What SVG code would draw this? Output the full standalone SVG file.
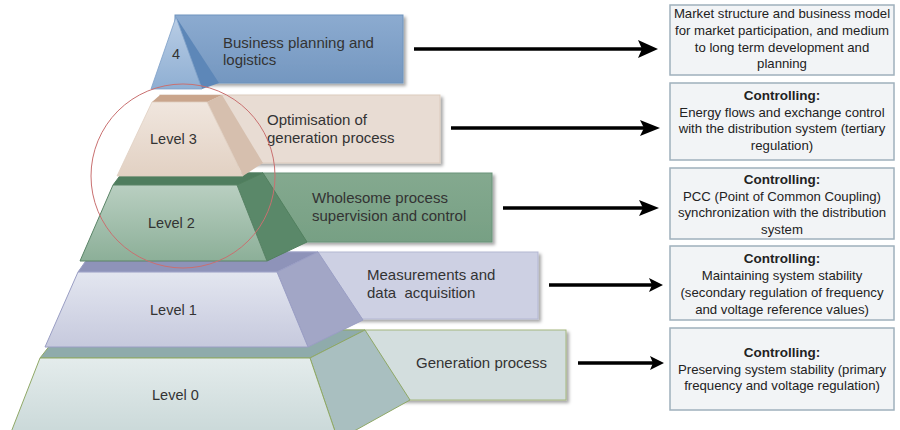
<svg xmlns="http://www.w3.org/2000/svg" width="900" height="430" viewBox="0 0 900 430">
<defs>
<filter id="sh" x="-5%" y="-10%" width="115%" height="130%">
<feDropShadow dx="2.5" dy="2.5" stdDeviation="1.6" flood-color="#000" flood-opacity="0.35"/>
</filter>
<linearGradient id="g4r" x1="0" y1="0" x2="0" y2="1"><stop offset="0" stop-color="#8cabd0"/><stop offset="1" stop-color="#7497c0"/></linearGradient>
<linearGradient id="g4f" x1="0" y1="0" x2="0" y2="1"><stop offset="0" stop-color="#b9cde5"/><stop offset="1" stop-color="#8fafd3"/></linearGradient>
<linearGradient id="g3f" x1="0" y1="0" x2="0" y2="1"><stop offset="0" stop-color="#f0e6de"/><stop offset="1" stop-color="#e2d1c3"/></linearGradient>
<linearGradient id="g2r" x1="0" y1="0" x2="0" y2="1"><stop offset="0" stop-color="#84a98f"/><stop offset="1" stop-color="#77a084"/></linearGradient>
<linearGradient id="g2f" x1="0" y1="0" x2="0" y2="1"><stop offset="0" stop-color="#b9cfc1"/><stop offset="1" stop-color="#8caf98"/></linearGradient>
<linearGradient id="g1f" x1="0" y1="0" x2="0" y2="1"><stop offset="0" stop-color="#e3e6f0"/><stop offset="1" stop-color="#c6c9dd"/></linearGradient>
<linearGradient id="g0f" x1="0" y1="0" x2="0" y2="1"><stop offset="0" stop-color="#e4ecec"/><stop offset="1" stop-color="#c8d7d7"/></linearGradient>
</defs>
<style>
.t{font-family:"Liberation Sans",Arial,sans-serif;font-size:15px;fill:#333}
.lv{font-family:"Liberation Sans",Arial,sans-serif;font-size:14.5px;fill:#333}
.bx{fill:#f2f4f6;stroke:#9fb0bc;stroke-width:1.5}
.bt{font-family:"Liberation Sans",Arial,sans-serif;font-size:13.2px;fill:#222;text-anchor:middle}
.bb{font-weight:bold;font-size:13.5px}
.ar{stroke:#000;stroke-width:3.5;fill:none}
.ah{fill:#000}
</style>

<g id="level0">
<rect x="300" y="330" width="266" height="70" fill="#d3dede" stroke="#a3b67f" stroke-width="1" filter="url(#sh)"/>
<polygon points="40,358 310,358 365,330 62,330" fill="#8fabab" stroke="#8fa866" stroke-width="1"/>
<polygon points="310,358 365,330 410,400 338,440" fill="#a9bfc0" stroke="#8fa866" stroke-width="1"/>
<polygon points="40,358 310,358 338,440 8,440" fill="url(#g0f)" stroke="#8fa866" stroke-width="1"/>
<text class="lv" x="152" y="400">Level 0</text>
<text class="t" x="416" y="368">Generation process</text>
</g>

<g id="level1">
<rect x="250" y="252" width="288" height="67" fill="#cdd0e3" stroke="#b3b7d2" stroke-width="1" filter="url(#sh)"/>
<polygon points="78,272 277,272 318,252 92,252" fill="#8e93b9" stroke="#9a9ec4" stroke-width="1"/>
<polygon points="277,272 318,252 363,320 308,347" fill="#a2a6c6" stroke="#9a9ec4" stroke-width="1"/>
<polygon points="78,272 277,272 308,347 45,347" fill="url(#g1f)" stroke="#9a9ec4" stroke-width="1"/>
<text class="lv" x="150" y="315">Level 1</text>
<text class="t" x="367" y="280">Measurements and</text>
<text class="t" x="367" y="298" xml:space="preserve">data  acquisition</text>
</g>

<g id="level2">
<rect x="200" y="173" width="292" height="69" fill="url(#g2r)" stroke="#6a937a" stroke-width="1" filter="url(#sh)"/>
<polygon points="113,185 237,185 263,173 122,173" fill="#4f7d5e" stroke="#4f7d5e" stroke-width="1"/>
<polygon points="237,185 263,173 307,242 267,261" fill="#5a8869" stroke="#52805f" stroke-width="1"/>
<polygon points="113,185 237,185 267,261 80,261" fill="url(#g2f)" stroke="#5a8467" stroke-width="1"/>
<text class="lv" x="148" y="228">Level 2</text>
<text class="t" x="312" y="203">Wholesome process</text>
<text class="t" x="312" y="221">supervision and control</text>
</g>

<g id="level3">
<rect x="160" y="95" width="280" height="68" fill="#e8dcd3" stroke="#dccbbd" stroke-width="1" filter="url(#sh)"/>
<polygon points="152,102 207,102 222,95 160,95" fill="#c9a58c"/>
<polygon points="207,102 222,95 263,163 243,176" fill="#d6bfae"/>
<polygon points="152,102 207,102 243,176 117,176" fill="url(#g3f)" stroke="#e0cfc1" stroke-width="0.8"/>
<text class="lv" x="150" y="144">Level 3</text>
<text class="t" x="267" y="125">Optimisation of</text>
<text class="t" x="267" y="143">generation process</text>
</g>

<g id="level4">
<rect x="175" y="15" width="228" height="68" fill="url(#g4r)" stroke="#6f93bd" stroke-width="1" filter="url(#sh)"/>
<polygon points="176,17 202,89 219,83" fill="#5d87b8"/>
<polygon points="176,17 151,89 202,89" fill="url(#g4f)" stroke="#7ea0c8" stroke-width="0.8"/>
<text class="lv" x="172" y="59">4</text>
<text class="t" x="223" y="48">Business planning and</text>
<text class="t" x="223" y="65">logistics</text>
</g>

<g id="focus-circle">
<circle cx="183" cy="176" r="92" fill="none" stroke="#c97070" stroke-width="1"/>
</g>

<g id="box1">
<rect class="bx" x="670" y="5" width="224" height="70"/>
<text class="bt" x="782" y="18">Market structure and business model</text>
<text class="bt" x="782" y="35">for market participation, and medium</text>
<text class="bt" x="782" y="52">to long term development and</text>
<text class="bt" x="782" y="68">planning</text>
</g>
<g id="box2">
<rect class="bx" x="670" y="83" width="224" height="77"/>
<text class="bt bb" x="782" y="100">Controlling:</text>
<text class="bt" x="782" y="117">Energy flows and exchange control</text>
<text class="bt" x="782" y="133">with the distribution system (tertiary</text>
<text class="bt" x="782" y="150">regulation)</text>
</g>
<g id="box3">
<rect class="bx" x="670" y="168" width="224" height="71"/>
<text class="bt bb" x="782" y="184">Controlling:</text>
<text class="bt" x="782" y="201">PCC (Point of Common Coupling)</text>
<text class="bt" x="782" y="217">synchronization with the distribution</text>
<text class="bt" x="782" y="234">system</text>
</g>
<g id="box4">
<rect class="bx" x="670" y="246" width="224" height="74"/>
<text class="bt bb" x="782" y="263">Controlling:</text>
<text class="bt" x="782" y="280">Maintaining system stability</text>
<text class="bt" x="782" y="297">(secondary regulation of frequency</text>
<text class="bt" x="782" y="314">and voltage reference values)</text>
</g>
<g id="box5">
<rect class="bx" x="670" y="328" width="224" height="82"/>
<text class="bt bb" x="782" y="357">Controlling:</text>
<text class="bt" x="782" y="374">Preserving system stability (primary</text>
<text class="bt" x="782" y="390">frequency and voltage regulation)</text>
</g>

<g id="connectors">
<line class="ar" x1="414" y1="49" x2="642" y2="49"/>
<polygon class="ah" points="658,49 638,40 642,49 638,58"/>
<line class="ar" x1="451" y1="128" x2="644" y2="128"/>
<polygon class="ah" points="660,128 640,120 644,128 640,136"/>
<line class="ar" x1="503" y1="208" x2="643" y2="208"/>
<polygon class="ah" points="659,208 639,200 643,208 639,216"/>
<line class="ar" x1="549" y1="285" x2="652" y2="285"/>
<polygon class="ah" points="663,285 649,278 652,285 649,292"/>
<line class="ar" x1="578" y1="363" x2="653" y2="363"/>
<polygon class="ah" points="664,363 650,356 653,363 650,370"/>
</g>
</svg>
